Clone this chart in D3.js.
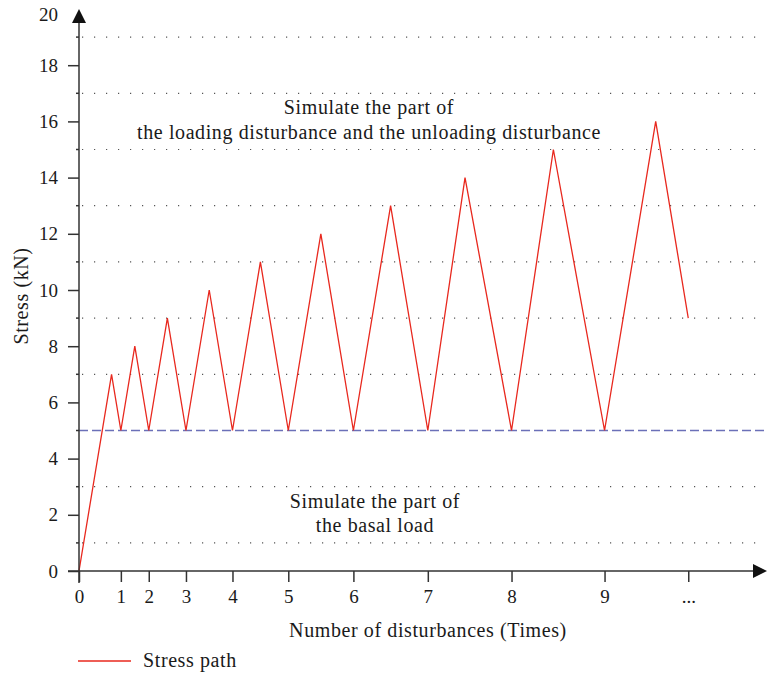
<!DOCTYPE html>
<html>
<head>
<meta charset="utf-8">
<script src="https://cdn.jsdelivr.net/npm/d3@7"></script>
<style>
  body { margin: 0; background: #fff; }
  text { font-family: "Liberation Serif", "DejaVu Serif", serif; fill: #1a1a1a; }
  .lbl { font-size: 20px; letter-spacing: 0.6px; }
  .tick text { font-size: 19px; }
</style>
</head>
<body>
<div id="chart"></div>
<script>
// stress path: time position (path length) and stress value
var pathTime   = [0, 7, 9, 12, 15, 19, 23, 28, 33, 39, 45, 52, 59, 67, 75, 83, 93, 102, 113, 124, 131];
var pathStress = [0, 7, 5, 8, 5, 9, 5, 10, 5, 11, 5, 12, 5, 13, 5, 14, 5, 15, 5, 16, 9];

// x ticks sit on the valleys
var xTickPos    = [0, 9, 15, 23, 33, 45, 59, 75, 93, 113, 131];
var xTickLabels = ["0", "1", "2", "3", "4", "5", "6", "7", "8", "9", "..."];

var yMajor = [0, 2, 4, 6, 8, 10, 12, 14, 16, 18];
var yGrid  = [1, 3, 5, 7, 9, 11, 13, 15, 17, 19];
var basalLoad = 5;

var W = 767, H = 674;

var x = d3.scaleLinear().domain([0, 147.5]).range([79, 765]);
var y = d3.scaleLinear().domain([0, 20]).range([571, 9]);

var svg = d3.select("#chart").append("svg")
    .attr("width", W)
    .attr("height", H);

// dotted grid lines at odd values
svg.append("g")
    .selectAll("line")
    .data(yGrid.filter(d => d != basalLoad))
    .enter().append("line")
    .attr("x1", x(0) + 3)
    .attr("x2", 765)
    .attr("y1", d => y(d))
    .attr("y2", d => y(d))
    .attr("stroke", "#555")
    .attr("stroke-width", 1.2)
    .attr("stroke-dasharray", "1.2,10.8");

// basal load line
svg.append("line")
    .attr("x1", x(0))
    .attr("x2", 765)
    .attr("y1", y(basalLoad))
    .attr("y2", y(basalLoad))
    .attr("stroke", "#6b70b8")
    .attr("stroke-width", 1.3)
    .attr("stroke-dasharray", "9,4");

// stress path
var pts = pathTime.map((t, i) => [t, pathStress[i]]);
svg.append("path")
    .datum(pts)
    .attr("fill", "none")
    .attr("stroke", "#e8281e")
    .attr("stroke-width", 1.3)
    .attr("d", d3.line().x(d => x(d[0])).y(d => y(d[1])));

// y axis
var yAxis = svg.append("g")
    .attr("transform", "translate(" + x(0) + ",0)")
    .call(d3.axisLeft(y).tickValues(yMajor).tickSize(11).tickPadding(10).tickFormat(d3.format("d")));
yAxis.select(".domain").remove();
yAxis.selectAll("line").attr("stroke", "#333").attr("stroke-width", 1.5);

// minor y ticks
svg.append("g")
    .selectAll("line")
    .data(yGrid)
    .enter().append("line")
    .attr("x1", x(0) - 3)
    .attr("x2", x(0))
    .attr("y1", d => y(d))
    .attr("y2", d => y(d))
    .attr("stroke", "#333")
    .attr("stroke-width", 1.5);

// "20" label sits next to the arrow
svg.append("text")
    .attr("x", 58)
    .attr("y", 15)
    .attr("dy", "0.32em")
    .attr("text-anchor", "end")
    .attr("font-size", "19px")
    .text("20");

// y axis line + arrow
svg.append("line")
    .attr("x1", x(0)).attr("x2", x(0))
    .attr("y1", 583).attr("y2", 20)
    .attr("stroke", "#333").attr("stroke-width", 1.5);
svg.append("path")
    .attr("d", d3.line()([[x(0) - 7, 23], [x(0), 9], [x(0) + 7, 23]]) + "Z")
    .attr("fill", "#111");

// x axis
var xAxis = svg.append("g")
    .attr("transform", "translate(0," + y(0) + ")")
    .call(d3.axisBottom(x).tickValues(xTickPos).tickSize(11).tickPadding(8)
        .tickFormat((d, i) => xTickLabels[i]));
xAxis.select(".domain").remove();
xAxis.selectAll("line").attr("stroke", "#333").attr("stroke-width", 1.5);

svg.append("line")
    .attr("x1", 68).attr("x2", 755)
    .attr("y1", y(0)).attr("y2", y(0))
    .attr("stroke", "#333").attr("stroke-width", 1.5);
svg.append("path")
    .attr("d", d3.line()([[753, y(0) - 7], [767, y(0)], [753, y(0) + 7]]) + "Z")
    .attr("fill", "#111");

// axis titles
svg.append("text")
    .attr("class", "lbl")
    .attr("transform", "translate(28,296) rotate(-90)")
    .attr("text-anchor", "middle")
    .text("Stress (kN)");

svg.append("text")
    .attr("class", "lbl")
    .attr("x", 428)
    .attr("y", 637)
    .attr("text-anchor", "middle")
    .text("Number of disturbances (Times)");

// annotations
var upper = svg.append("text")
    .attr("class", "lbl")
    .attr("text-anchor", "middle");
upper.append("tspan").attr("x", 369).attr("y", 114).text("Simulate the part of");
upper.append("tspan").attr("x", 369).attr("y", 139).text("the loading disturbance and the unloading disturbance");

var lower = svg.append("text")
    .attr("class", "lbl")
    .attr("text-anchor", "middle");
lower.append("tspan").attr("x", 375).attr("y", 508).text("Simulate the part of");
lower.append("tspan").attr("x", 375).attr("y", 532).text("the basal load");

// legend
svg.append("line")
    .attr("x1", 78).attr("x2", 131)
    .attr("y1", 661).attr("y2", 661)
    .attr("stroke", "#e8281e").attr("stroke-width", 1.3);
svg.append("text")
    .attr("class", "lbl")
    .attr("x", 143)
    .attr("y", 667)
    .text("Stress path");
</script>
</body>
</html>
